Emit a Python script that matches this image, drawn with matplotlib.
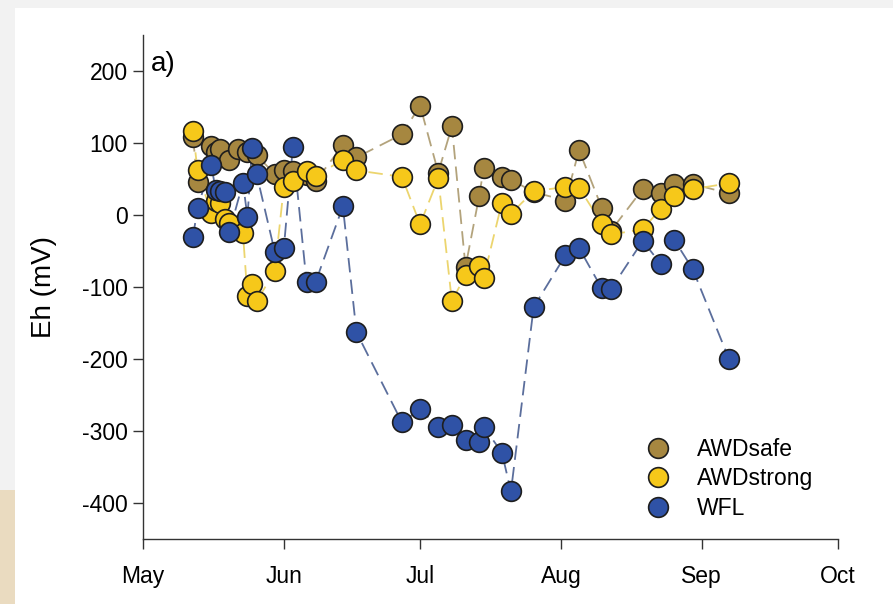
#! /usr/bin/env python3

import numpy as np
import matplotlib
matplotlib.use("Agg")
import matplotlib.pyplot as plt
from matplotlib.lines import Line2D
from matplotlib.patches import Rectangle

YEAR = "2015"

# sampling dates (MM-DD) and Eh readings in mV
safe_dates = ["05-12", "05-13", "05-16", "05-17", "05-18", "05-20", "05-22", "05-24",
              "05-26", "05-30", "06-01", "06-03", "06-06", "06-08", "06-14", "06-17",
              "06-27", "07-01", "07-05", "07-08", "07-11", "07-14", "07-15", "07-19",
              "07-21", "07-26", "08-02", "08-05", "08-10", "08-12", "08-19", "08-23",
              "08-26", "08-30", "09-07"]
safe_eh = [108, 46, 96, 88, 91, 76, 92, 87,
           83, 57, 62, 61, 55, 47, 97, 80,
           112, 152, 59, 123, -72, 26, 65, 53,
           49, 32, 20, 90, 10, -22, 36, 31,
           43, 43, 30]

strong_dates = ["05-12", "05-13", "05-16", "05-17", "05-18", "05-19", "05-20", "05-23",
                "05-24", "05-25", "05-26", "05-30", "06-01", "06-03", "06-06", "06-08",
                "06-14", "06-17", "06-27", "07-01", "07-05", "07-08", "07-11", "07-14",
                "07-15", "07-19", "07-21", "07-26", "08-02", "08-05", "08-10", "08-12",
                "08-19", "08-23", "08-26", "08-30", "09-07"]
strong_eh = [117, 62, 3, 19, 16, -6, -11, -25,
             -113, -96, -120, -78, 39, 47, 61, 54,
             77, 62, 53, -13, 51, -120, -83, -71,
             -87, 17, 2, 33, 39, 38, -12, -27,
             -20, 9, 26, 36, 44]

wfl_dates = ["05-12", "05-13", "05-16", "05-17", "05-18", "05-19", "05-20", "05-23",
             "05-24", "05-25", "05-26", "05-30", "06-01", "06-03", "06-06", "06-08",
             "06-14", "06-17", "06-27", "07-01", "07-05", "07-08", "07-11", "07-14",
             "07-15", "07-19", "07-21", "07-26", "08-02", "08-05", "08-10", "08-12",
             "08-19", "08-23", "08-26", "08-30", "09-07"]
wfl_eh = [-31, 10, 70, 35, 33, 32, -24, 45,
          -3, 93, 57, -51, -46, 95, -93, -93,
          12, -163, -288, -270, -294, -292, -313, -315,
          -294, -330, -384, -128, -56, -46, -102, -103,
          -36, -68, -35, -75, -200]

month_ticks = ["05-01", "06-01", "07-01", "08-01", "09-01", "10-01"]
month_labels = ["May", "Jun", "Jul", "Aug", "Sep", "Oct"]
y_ticks = [-400, -300, -200, -100, 0, 100, 200]

series = [
    ("AWDsafe", safe_dates, safe_eh, "#a68740", "#b3a37c"),
    ("AWDstrong", strong_dates, strong_eh, "#f6c81a", "#ecd56e"),
    ("WFL", wfl_dates, wfl_eh, "#2f52a6", "#5b6e9c"),
]


def to_dates(days):
    return np.array([YEAR + "-" + d for d in days], dtype="datetime64[D]")


def main():
    plt.rcParams["font.family"] = ["Liberation Sans", "DejaVu Sans"]
    plt.rcParams["axes.unicode_minus"] = False

    fig = plt.figure(figsize=(8.93, 6.04), dpi=100, facecolor="#f2f2f2")
    # white panel of the screenshot + beige corner
    fig.patches.append(Rectangle((15 / 893, 0), 1, 1 - 8 / 604, transform=fig.transFigure,
                                 facecolor="white", edgecolor="none", zorder=-2))
    fig.patches.append(Rectangle((0, 0), 15 / 893, 114 / 604, transform=fig.transFigure,
                                 facecolor="#eadbc0", edgecolor="none", zorder=-2))

    ax = fig.add_axes([143 / 893, 1 - 539 / 604, (838 - 143) / 893, (539 - 35) / 604])
    ax.set_facecolor("none")

    ms = 14.2
    handles = []
    for i, (name, days, eh, fill, line) in enumerate(series):
        x = to_dates(days)
        ax.plot(x, eh, color=line, lw=1.3, dashes=(8, 4), zorder=2 + i)
        ax.plot(x, eh, ls="none", marker="o", ms=ms, mfc=fill, mec="#1e1e1e",
                mew=1.2, zorder=5 + i)
        handles.append(Line2D([], [], ls="none", marker="o", ms=ms, mfc=fill,
                              mec="#1e1e1e", mew=1.2, label=name))

    ax.set_xlim(to_dates(["05-01"])[0], to_dates(["10-01"])[0])
    ax.set_ylim(-450, 250)
    ax.set_xticks(to_dates(month_ticks))
    ax.set_xticklabels(month_labels)
    ax.set_yticks(y_ticks)

    for side in ["top", "right"]:
        ax.spines[side].set_visible(False)
    for side in ["left", "bottom"]:
        ax.spines[side].set_color("#333333")
        ax.spines[side].set_linewidth(1.0)

    ax.tick_params(direction="out", length=7, width=1, colors="#333333",
                   labelsize=16.5, labelcolor="black")
    ax.tick_params(axis="y", pad=4)
    ax.tick_params(axis="x", pad=12)
    ax.set_ylabel("Eh (mV)", fontsize=20, labelpad=18)

    ax.text(0.012, 0.968, "a)", transform=ax.transAxes, fontsize=20,
            va="top", ha="left")

    ax.legend(handles=handles, loc="upper left", bbox_to_anchor=(0.7245, 0.200),
              frameon=False, fontsize=16.5, handlelength=1.0, handletextpad=1.2,
              labelspacing=0.27, borderaxespad=0, borderpad=0)

    fig.savefig("out.png", dpi=100, facecolor=fig.get_facecolor())


if __name__ == "__main__":
    main()
